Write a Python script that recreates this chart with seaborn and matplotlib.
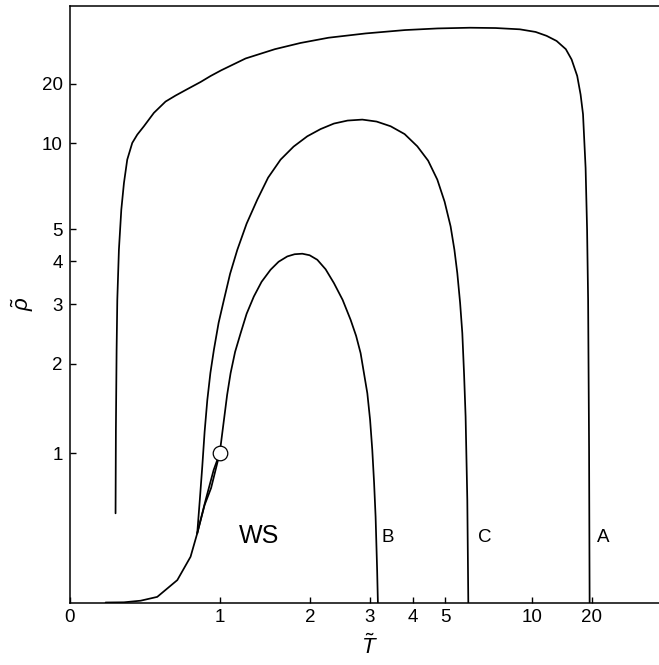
import numpy as np
import pandas as pd
import matplotlib
matplotlib.use("Agg")
import matplotlib.pyplot as plt
from matplotlib.ticker import NullLocator
import seaborn as sns

# ---------------- data ----------------
curve_A_T = [0.249, 0.251, 0.2552, 0.2593, 0.2688, 0.2831, 0.299, 0.319, 0.350, 0.3816,
             0.424, 0.4903, 0.571, 0.6434, 0.7263, 0.8373, 0.9208, 1.014, 1.244, 1.559,
             1.875, 2.273, 2.915, 3.794, 4.746, 6.00, 7.317, 8.98, 10.38, 11.57,
             12.85, 14.25, 15.26, 16.36, 17.09, 17.65, 18.28, 18.66, 18.93, 19.19, 19.34]
curve_A_p = [0.527, 1.22, 2.20, 3.088, 4.337, 5.778, 7.10, 8.633, 10.05, 10.89,
             11.85, 13.71, 15.68, 16.93, 18.36, 20.47, 22.47, 24.73, 30.93, 38.2,
             45.06, 52.9, 61.54, 70.5, 75.76, 78.3, 77.17, 72.8, 65.24, 56.4,
             47.80, 38.2, 30.30, 22.5, 17.16, 13.5, 8.03, 4.993, 3.088, 1.03, 0.0]

curve_B_T = [0.810, 0.879, 0.947, 1.000, 1.038, 1.067, 1.099, 1.1415, 1.195, 1.254,
             1.328, 1.410, 1.509, 1.6015, 1.706, 1.7975, 1.898, 1.997, 2.106, 2.229,
             2.358, 2.500, 2.638, 2.7365, 2.820, 2.949, 3.004, 3.048, 3.085, 3.116,
             3.148, 3.164]
curve_B_p = [0.393, 0.622, 0.856, 1.000, 1.322, 1.600, 1.872, 2.172, 2.468, 2.811,
             3.157, 3.485, 3.781, 3.9925, 4.141, 4.204, 4.219, 4.175, 4.047, 3.793,
             3.455, 3.088, 2.700, 2.423, 2.153, 1.620, 1.322, 1.030, 0.751, 0.503,
             0.172, 0.0]

curve_C_T = [0.810, 0.8308, 0.851, 0.8703, 0.893, 0.9191, 0.949, 0.9903, 1.038, 1.0945,
             1.163, 1.2539, 1.364, 1.4814, 1.625, 1.7847, 1.965, 2.1541, 2.358, 2.5853,
             2.852, 3.1369, 3.445, 3.7836, 4.124, 4.4418, 4.736, 4.9857, 5.204, 5.3482,
             5.462, 5.5746, 5.666, 5.741, 5.805, 5.879, 5.923]
curve_C_p = [0.393, 0.622, 0.884, 1.2002, 1.541, 1.8759, 2.202, 2.6457, 3.088, 3.6791,
             4.337, 5.2131, 6.231, 7.4134, 8.633, 9.708, 10.71, 11.513, 12.19, 12.588,
             12.72, 12.454, 11.85, 10.947, 9.734, 8.558, 7.295, 6.1363, 5.113, 4.337,
             3.696, 3.0263, 2.468, 1.8495, 1.357, 0.622, 0.0]

ws_line_T = [0.192, 0.299, 0.403, 0.513, 0.656, 0.757, 0.810, 0.870, 0.925, 0.981, 1.000]
ws_line_p = [0.0, 0.001, 0.0091, 0.0285, 0.117, 0.249, 0.393, 0.585, 0.712, 0.924, 1.000]

critical_T = [1.0]
critical_p = [1.0]

x_ticks = [0, 1, 2, 3, 4, 5, 10, 20]
y_ticks = [1, 2, 3, 4, 5, 10, 20]

curve_labels = ["B", "C", "A"]
curve_label_T = [3.37, 6.70, 23.8]
curve_label_p = [0.369, 0.369, 0.369]
region_label = "WS"
region_label_T = 1.378
region_label_p = 0.375

# ---------------- scale: x/(x+3) compactification ----------------
C0 = 3.0


def fwd(x):
    x = np.asarray(x, dtype=float)
    with np.errstate(divide="ignore", invalid="ignore"):
        return x / (x + C0)


def inv(f):
    f = np.asarray(f, dtype=float)
    with np.errstate(divide="ignore", invalid="ignore"):
        return C0 * f / (1.0 - f)


sns.set_theme(style="white")
plt.rcParams["font.family"] = ["Liberation Sans", "DejaVu Sans"]
plt.rcParams["mathtext.fontset"] = "custom"
plt.rcParams["mathtext.it"] = "Liberation Sans:italic"
plt.rcParams["mathtext.rm"] = "Liberation Sans"

W, H = 659, 665
fig = plt.figure(figsize=(W / 100, H / 100), dpi=100)
left_px, bottom_px, top_px, width_px = 69.5, 602.5, 5.7, 600.8
ax = fig.add_axes([left_px / W, (H - bottom_px) / H, width_px / W, (bottom_px - top_px) / H])

lw = 1.25
for T, p in [(curve_A_T, curve_A_p), (curve_B_T, curve_B_p),
             (curve_C_T, curve_C_p), (ws_line_T, ws_line_p)]:
    df = pd.DataFrame({"T": T, "p": p})
    sns.lineplot(data=df, x="T", y="p", sort=False, estimator=None,
                 color="black", linewidth=lw, ax=ax)

sns.scatterplot(x=critical_T, y=critical_p, s=110, color="white",
                edgecolor="black", linewidth=0.9, zorder=5, ax=ax)

ax.set_xscale("function", functions=(fwd, inv))
ax.set_yscale("function", functions=(fwd, inv))
ax.set_xlim(0, 1e7)
ax.set_ylim(0, 1e7)

ax.set_xticks(x_ticks)
ax.set_xticklabels([str(t) for t in x_ticks])
ax.set_yticks(y_ticks)
ax.set_yticklabels([str(t) for t in y_ticks])
ax.xaxis.set_minor_locator(NullLocator())
ax.yaxis.set_minor_locator(NullLocator())

ax.tick_params(axis="both", which="major", direction="in", length=4.5, width=1.0,
               labelsize=13.5, colors="black", pad=5,
               bottom=True, left=True, top=False, right=False)
ax.tick_params(axis="y", length=4.0)

for s in ["left", "bottom", "top", "right"]:
    ax.spines[s].set_color("black")
    ax.spines[s].set_linewidth(1.1)
    ax.spines[s].set_visible(True)

ax.set_xlabel(r"$\tilde{T}$", fontsize=16, color="black", labelpad=6)
ax.set_ylabel(r"$\tilde{\rho}$", fontsize=16, color="black", labelpad=4)

for lab, tx, py in zip(curve_labels, curve_label_T, curve_label_p):
    ax.text(tx, py, lab, fontsize=13.5, ha="center", va="center", color="black")
ax.text(region_label_T, region_label_p, region_label, fontsize=18,
        ha="center", va="center", color="black")

fig.savefig("out.png", dpi=100)
